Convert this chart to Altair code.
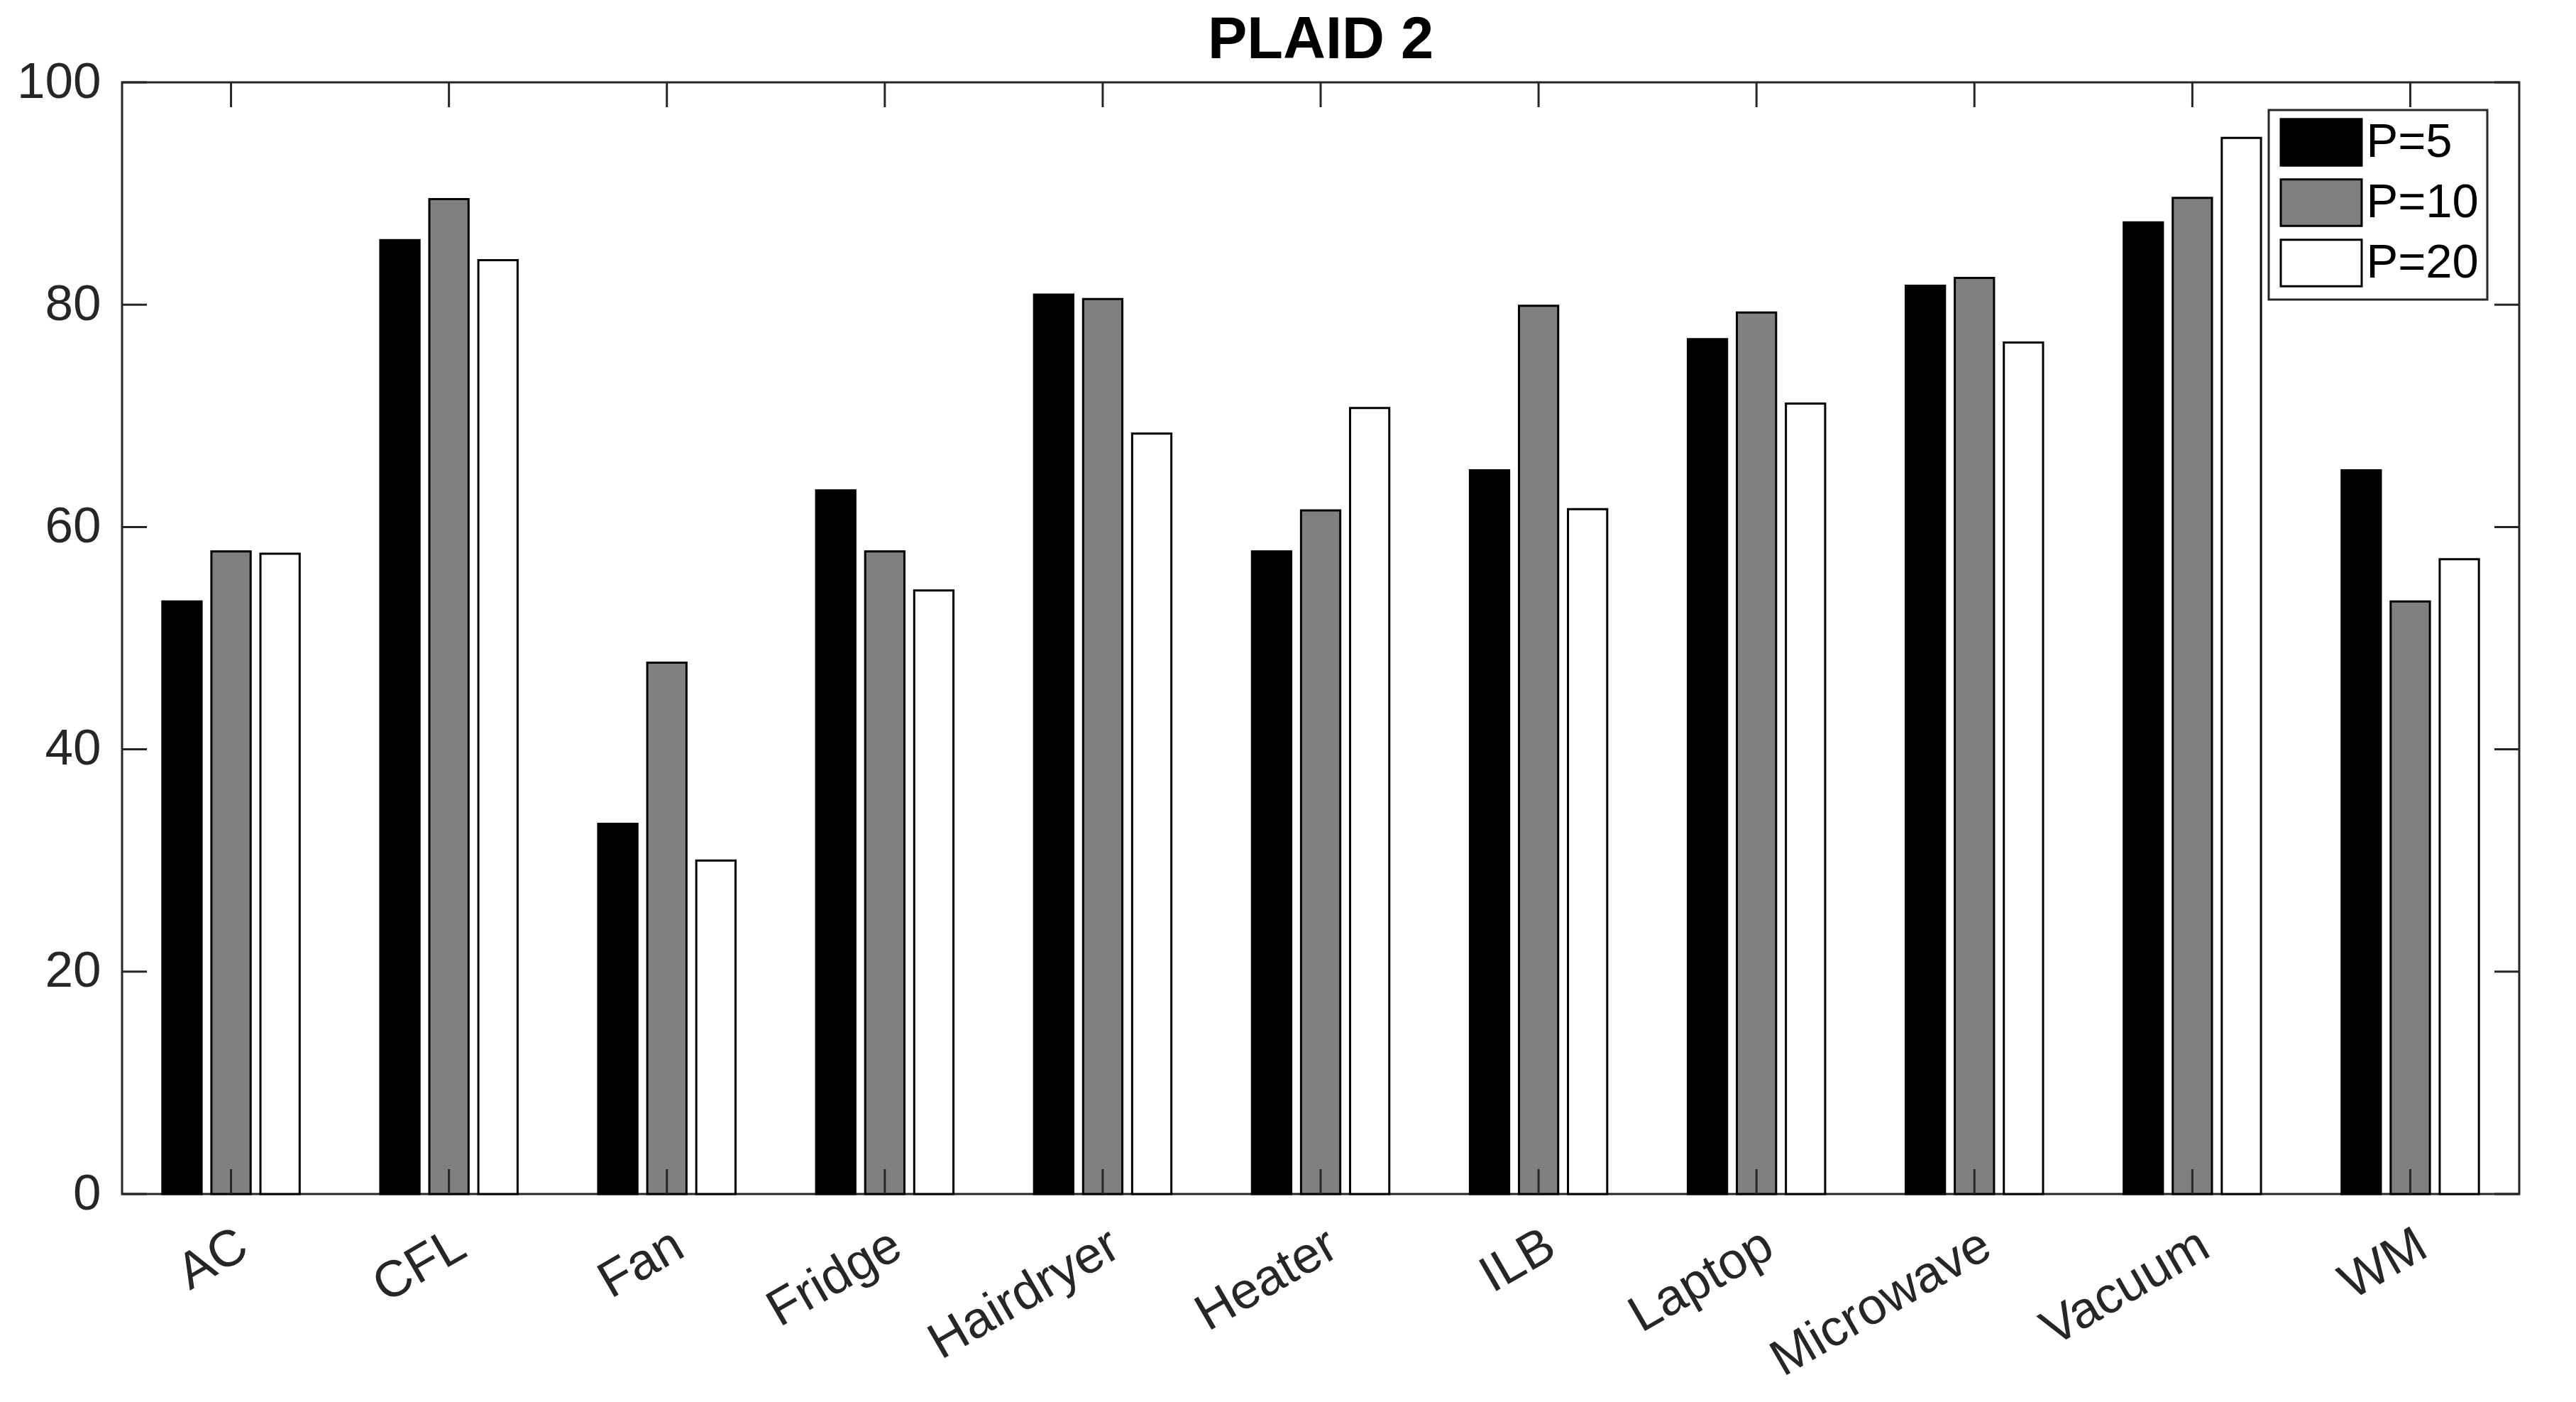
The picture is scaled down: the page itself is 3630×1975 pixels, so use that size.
import altair as alt
import pandas as pd

devices = ["AC", "CFL", "Fan", "Fridge", "Hairdryer", "Heater", "ILB", "Laptop",
           "Microwave", "Vacuum", "WM"]
p5 = [53.3, 85.8, 33.3, 63.3, 80.9, 57.8, 65.1, 76.9, 81.7, 87.4, 65.1]
p10 = [57.8, 89.5, 47.8, 57.8, 80.5, 61.5, 79.9, 79.3, 82.4, 89.6, 53.3]
p20 = [57.6, 84.0, 30.0, 54.3, 68.4, 70.7, 61.6, 71.1, 76.6, 95.0, 57.1]
series = ["P=5", "P=10", "P=20"]
series_colors = ["#000000", "#808080", "#ffffff"]
y_ticks = [0, 20, 40, 60, 80, 100]

W = 3378
H = 1566
TICK = 35
FONT = "Liberation Sans"
AXIS_COLOR = "#262626"

rows = []
for name, vals in zip(series, [p5, p10, p20]):
    for d, v in zip(devices, vals):
        rows.append({"Device": d, "Series": name, "Value": v})
df = pd.DataFrame(rows)
yt = pd.DataFrame({"v": y_ticks})
xt = pd.DataFrame({"Device": devices})

xscale = alt.Scale(paddingInner=0.37, paddingOuter=0.185)
yscale = alt.Scale(domain=[0, 100], nice=False)
xaxis = alt.Axis(title=None, labelAngle=-30, labelAlign="right",
                 labelBaseline="top", ticks=False, domain=False,
                 labelFontSize=72, labelFont=FONT, labelColor=AXIS_COLOR,
                 labelPadding=36, labelLimit=0)
yaxis = alt.Axis(values=y_ticks, title=None, ticks=False, domain=False,
                 grid=False, labelFontSize=71, labelFont=FONT,
                 labelColor=AXIS_COLOR, labelPadding=30)

bars = alt.Chart(df).mark_bar(stroke="#000000", strokeWidth=3).encode(
    x=alt.X("Device:N", sort=devices, scale=xscale, axis=xaxis),
    xOffset=alt.XOffset("Series:N", sort=series,
                        scale=alt.Scale(paddingInner=0.2, paddingOuter=0)),
    y=alt.Y("Value:Q", scale=yscale, axis=yaxis),
    color=alt.Color("Series:N", sort=series,
                    scale=alt.Scale(domain=series, range=series_colors),
                    legend=alt.Legend(title=None, orient="none", legendX=3025, legendY=39,
                                      symbolType="M-2,-1.15H2V1.15H-2Z",
                                      symbolSize=3249, symbolOffset=28.5,
                                      symbolStrokeColor="#000000",
                                      symbolStrokeWidth=3, symbolOpacity=1,
                                      labelFontSize=67, labelFont=FONT, labelLimit=0,
                                      labelColor="#000000", labelOffset=30,
                                      strokeColor=AXIS_COLOR, fillColor="#ffffff",
                                      padding=12, rowPadding=6)),
)

rule_style = dict(color=AXIS_COLOR, strokeWidth=3)
left_ticks = alt.Chart(yt).mark_rule(**rule_style).encode(
    y=alt.Y("v:Q", scale=yscale, axis=yaxis), x=alt.value(0), x2=alt.value(TICK))
right_ticks = alt.Chart(yt).mark_rule(**rule_style).encode(
    y=alt.Y("v:Q", scale=yscale, axis=yaxis), x=alt.value(W - TICK), x2=alt.value(W))
top_ticks = alt.Chart(xt).mark_rule(**rule_style).encode(
    x=alt.X("Device:N", sort=devices, scale=xscale, axis=xaxis),
    y=alt.value(0), y2=alt.value(TICK))
bottom_ticks = alt.Chart(xt).mark_rule(**rule_style).encode(
    x=alt.X("Device:N", sort=devices, scale=xscale, axis=xaxis),
    y=alt.value(H - TICK), y2=alt.value(H))

chart = alt.layer(bars, left_ticks, right_ticks, top_ticks, bottom_ticks).properties(
    width=W, height=H,
    title=alt.TitleParams("PLAID 2", fontSize=83, font=FONT, fontWeight="bold",
                          color="#000000", anchor="middle", baseline="alphabetic",
                          offset=-85),
    background="#ffffff",
    padding={"left": 15, "top": 8, "right": 5, "bottom": 5},
).configure_view(stroke=AXIS_COLOR, strokeWidth=3
).configure_legend(strokeWidth=3)

chart.save("out.html", embed_options={"renderer": "svg", "actions": False})
